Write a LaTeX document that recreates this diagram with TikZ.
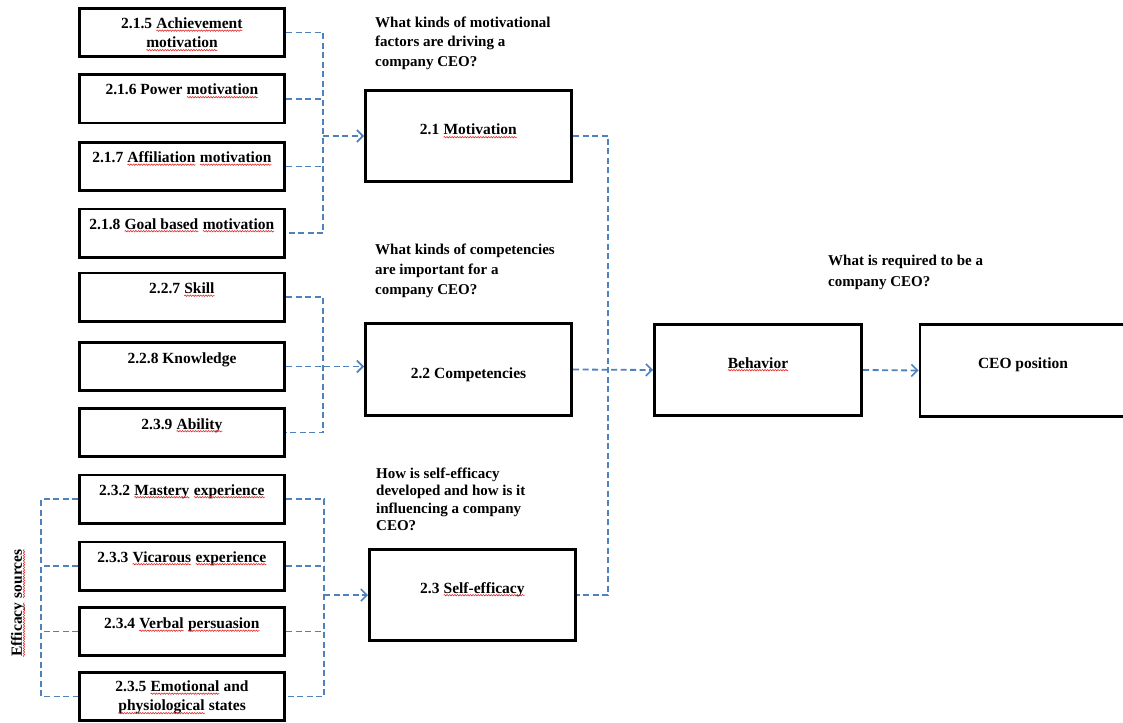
\documentclass[tikz,border=0pt]{standalone}
\usepackage{fontspec}
\setmainfont{Liberation Serif}
\usetikzlibrary{arrows.meta,decorations.pathmorphing}
\definecolor{linkblue}{RGB}{79,129,189}
\definecolor{spellred}{RGB}{225,45,45}
% red wavy underline under a word
\newcommand\sq[1]{\tikz[baseline=(sqw.base),x=1pt,y=1pt]{%
  \node[inner sep=0pt,outer sep=0pt,draw=none] (sqw) {#1};%
  \draw[spellred, line width=0.6pt, solid, decorate,
        decoration={snake, amplitude=0.7pt, segment length=2.6pt}]
    ([yshift=-2.2pt]sqw.base west) -- ([yshift=-2.2pt]sqw.base east);}}

\begin{document}
\begin{tikzpicture}[x=1pt,y=-1pt,
  box/.style={draw, line width=2.8pt, inner sep=0pt},
  smallbox/.style={box, minimum width=205.2pt, minimum height=48.2pt},
  bigbox/.style={box, minimum width=206.2pt, minimum height=91.4pt},
  lbl/.style={font=\fontsize{15.5}{19.5}\selectfont\bfseries, inner sep=0pt},
  ques/.style={inner sep=0pt, anchor=north west, align=left},
  conn/.style={draw=linkblue, line width=1.8pt, dash pattern=on 6pt off 3.5pt},
  flow/.style={conn, -{Straight Barb[length=6pt,width=12pt,line width=1.6pt]}}]
\useasboundingbox (0,0) rectangle (1123,722);

% ---- left column of factor boxes
\node[smallbox] (b215) at (182,32.5) {};
\node[smallbox] (b216) at (182,99) {};
\node[smallbox] (b217) at (182,166.5) {};
\node[smallbox] (b218) at (182,233) {};
\node[smallbox] (b227) at (182,297) {};
\node[smallbox] (b228) at (182,366.5) {};
\node[smallbox] (b239) at (182,432.5) {};
\node[smallbox] (b232) at (182,499) {};
\node[smallbox] (b233) at (182,566) {};
\node[smallbox] (b234) at (182,631.5) {};
\node[smallbox] (b235) at (182,696.5) {};

\node[lbl, anchor=north, align=center] (t215) at ([yshift=-10.5pt]b215.north) {2.1.5 \sq{Achievement}\\\sq{motivation}};
\node[lbl, anchor=base] (t216) at ([yshift=-21.5pt]b216.north) {2.1.6 Power \sq{motivation}};
\node[lbl, anchor=base] (t217) at ([yshift=-21.5pt]b217.north) {2.1.7 \sq{Affiliation} \sq{motivation}};
\node[lbl, anchor=base] (t218) at ([yshift=-21.5pt]b218.north) {2.1.8 \sq{Goal based} \sq{motivation}};
\node[lbl, anchor=base] (t227) at ([yshift=-22pt]b227.north) {2.2.7 \sq{Skill}};
\node[lbl, anchor=base] (t228) at ([yshift=-22pt]b228.north) {2.2.8 Knowledge};
\node[lbl, anchor=base] (t239) at ([yshift=-22pt]b239.north) {2.3.9 \sq{Ability}};
\node[lbl, anchor=base] (t232) at ([yshift=-21.5pt]b232.north) {2.3.2 \sq{Mastery} \sq{experience}};
\node[lbl, anchor=base] (t233) at ([yshift=-21.5pt]b233.north) {2.3.3 \sq{Vicarous} \sq{experience}};
\node[lbl, anchor=base] (t234) at ([yshift=-22.5pt]b234.north) {2.3.4 \sq{Verbal} \sq{persuasion}};
\node[lbl, anchor=north, align=center] (t235) at ([yshift=-9.5pt]b235.north) {2.3.5 \sq{Emotional} and\\\sq{physiological} states};

\node[lbl, rotate=90] (eff) at (18,603) {\sq{Efficacy} \sq{sources}};

% ---- main constructs
\node[bigbox] (mot)  at (468.5,136)   {};
\node[bigbox] (comp) at (468.5,369.5) {};
\node[bigbox] (self) at (472.5,595)   {};
\node[bigbox, minimum width=207.2pt] (beh) at (758,370) {};
\node[bigbox] (ceo)  at (1023,370.5)  {};

\node[lbl, anchor=base] (tmot)  at ([yshift=1pt]mot.center)    {2.1 \sq{Motivation}};
\node[lbl, anchor=base] (tcomp) at ([yshift=-8.5pt]comp.center) {2.2 Competencies};
\node[lbl, anchor=base] (tself) at ([yshift=2pt]self.center)   {2.3 \sq{Self-efficacy}};
\node[lbl, anchor=base] (tbeh)  at ([yshift=2pt]beh.center)    {\sq{Behavior}};
\node[lbl, anchor=base] (tceo)  at ([yshift=2.5pt]ceo.center)  {CEO position};

% ---- guiding questions
\node[ques, font=\fontsize{15}{19.5}\selectfont\bfseries] (q1) at (375,16.5)
  {What kinds of motivational\\factors are driving a\\company CEO?};
\node[ques, font=\fontsize{15}{20}\selectfont\bfseries] (q2) at (375,243.5)
  {What kinds of competencies\\are important for a\\company CEO?};
\node[ques, font=\fontsize{15}{17.5}\selectfont\bfseries] (q3) at (376,467.5)
  {How is self-efficacy\\developed and how is it\\influencing a company\\CEO?};
\node[ques, font=\fontsize{15}{21}\selectfont\bfseries] (q4) at (828,254.5)
  {What is required to be a\\company CEO?};

% ---- bracket columns
\coordinate (mx) at (323,0);
\coordinate (mx3) at (324,0);
\coordinate (lx) at (41,0);
\coordinate (rx) at (608,0);

% motivation factors
\draw[conn] (b215.east) -- (b215.east -| mx) -- (b218.east -| mx) -- (b218.east);
\draw[conn] (b216.east) -- (b216.east -| mx);
\draw[conn] (b217.east) -- (b217.east -| mx);
\draw[flow] (mot.west -| mx) -- (mot.west);

% competency factors
\draw[conn] (b227.east) -- (b227.east -| mx) -- (b239.east -| mx) -- (b239.east);
\draw[flow] (b228.east) -- (b228.east -| comp.west);

% self-efficacy factors
\draw[conn] (b232.east) -- (b232.east -| mx3) -- (b235.east -| mx3) -- (b235.east);
\draw[conn] (b233.east) -- (b233.east -| mx3);
\draw[conn] (b234.east) -- (b234.east -| mx3);
\draw[flow] (self.west -| mx3) -- (self.west);

% efficacy sources bracket
\draw[conn] (b232.west) -- (b232.west -| lx) -- (b235.west -| lx) -- (b235.west);
\draw[conn] (b233.west) -- (b233.west -| lx);
\draw[conn] (b234.west) -- (b234.west -| lx);

% constructs to behaviour and position
\draw[conn] (mot.east) -- (mot.east -| rx) -- (self.east -| rx) -- (self.east);
\draw[flow] (comp.east) -- (beh.west);
\draw[flow] (beh.east) -- (ceo.west);
\end{tikzpicture}
\end{document}
